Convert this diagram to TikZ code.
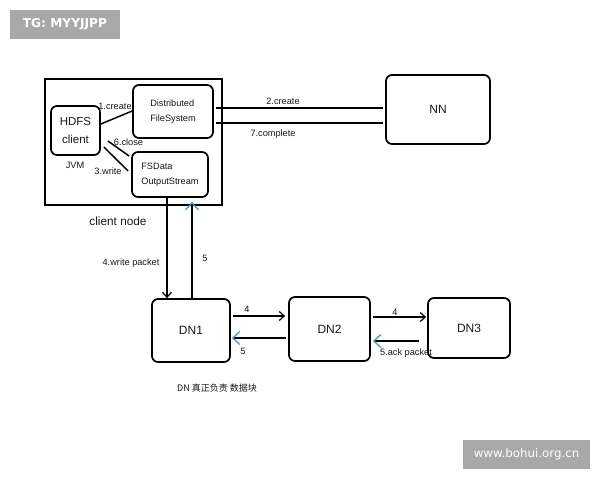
\documentclass[tikz,border=0pt]{standalone}
\usepackage{fontspec}
\setmainfont{Liberation Sans}
\newfontfamily\cjkfont{Noto Sans CJK SC}
\newfontfamily\wmfont{DejaVu Sans}
\usetikzlibrary{arrows.meta,calc}
\definecolor{tealc}{RGB}{70,160,172}
\definecolor{wmgray}{RGB}{168,168,168}
\definecolor{txt}{RGB}{25,25,25}
\tikzset{
  box/.style={draw, line width=1.7pt, rounded corners=6pt, align=center, inner sep=0pt, text=txt},
  outerbox/.style={draw, line width=1.7pt, inner sep=0pt},
  lbl/.style={inner sep=0pt, text=txt, font=\fontsize{9.2}{11}\selectfont},
  conn/.style={line width=1.5pt},
  blk/.style={conn, -{Straight Barb[length=5pt,width=9pt,line width=1.2pt]}},
  tl/.style={conn, -{Straight Barb[length=7pt,width=13pt,line width=1.3pt,color=tealc]}},
  wm/.style={fill=wmgray, text=white, inner sep=0pt}
}
\begin{document}
\begin{tikzpicture}[x=1pt,y=-1pt]
\fill[white] (0,0) rectangle (600,480);
\useasboundingbox (0,0) rectangle (600,480);

% watermarks
\node[wm, minimum width=110pt, minimum height=29pt, font=\wmfont\bfseries\fontsize{12.2}{13}\selectfont] (tg) at (65,24.5) {TG: MYYJJPP};
\node[wm, minimum width=127pt, minimum height=29pt, font=\wmfont\fontsize{11.8}{13}\selectfont] (web) at (526.5,454.5) {www.bohui.org.cn};

% client node
\node[outerbox, minimum width=177pt, minimum height=126pt] (clientnode) at (133.5,142) {};
\node[box, minimum width=49pt, minimum height=49pt, font=\fontsize{11.5}{18}\selectfont] (hdfs) at (75.5,130.5) {HDFS\\client};
\node[box, minimum width=80pt, minimum height=53pt, align=left, font=\fontsize{9.2}{15}\selectfont] (dfs) at (173,111.5) {Distributed\\FileSystem};
\node[box, minimum width=76pt, minimum height=45pt, align=left, font=\fontsize{9.2}{14.5}\selectfont] (fsd) at (170,174.5) {FSData\\OutputStream};

\node[lbl] (jvm) at (75,165) {JVM};
\node[inner sep=0pt, text=txt, font=\fontsize{11.8}{13}\selectfont] (cnlabel) at (118,221) {client node};

\draw[conn] (hdfs.east |- 0,124) -- (dfs.west |- 0,111);
\node[lbl] (l1) at (115,106) {1.create};
\draw[conn] ($(hdfs.east)+(7,10.5)$) -- ($(fsd.west)+(-2,-18.5)$);
\node[lbl] (l6) at (128.5,142) {6.close};
\draw[conn] ($(hdfs.east)+(3,16.5)$) -- ($(fsd.west)+(-3,-3.5)$);
\node[lbl] (l3) at (108,171) {3.write};

% NN
\node[box, minimum width=104pt, minimum height=69pt, font=\fontsize{12}{14}\selectfont] (nn) at (438,109.5) {NN};
\draw[conn] ($(dfs.east |- 0,108)+(2,0)$) -- ($(nn.west |- 0,108)+(-2,0)$);
\node[lbl] (l2) at (283,101) {2.create};
\draw[conn] ($(dfs.east |- 0,123)+(2,0)$) -- ($(nn.west |- 0,123)+(-2,0)$);
\node[lbl] (l7) at (273,134) {7.complete};

% DNs
\node[box, minimum width=78pt, minimum height=63pt, font=\fontsize{12}{14}\selectfont] (dn1) at (191,330.5) {DN1};
\node[box, minimum width=81pt, minimum height=64pt, font=\fontsize{12}{14}\selectfont] (dn2) at (329.5,329) {DN2};
\node[lbl] (l5ack) at (406,353) {5.ack packet};
\node[box, minimum width=82pt, minimum height=60pt, font=\fontsize{12}{14}\selectfont] (dn3) at (469,328) {DN3};

% vertical arrows
\draw[blk] (fsd.south -| 167,0) -- (dn1.north -| 167,0);
\node[lbl] (l4w) at (131,263) {4.write packet};
\draw[tl] (dn1.north -| 192,0) -- ($(fsd.south -| 192,0)+(0,4)$);
\node[lbl] (l5v) at (205,258) {5};

% horizontal arrows
\draw[blk] ($(dn1.east |- 0,316)+(2,0)$) -- ($(dn2.west |- 0,316)+(-3,0)$);
\node[lbl] (l4a) at (247,309) {4};
\draw[tl] ($(dn2.west |- 0,338)+(-2,0)$) -- ($(dn1.east |- 0,338)+(1,0)$);
\node[lbl] (l5a) at (243,351) {5};
\draw[blk] ($(dn2.east |- 0,317)+(2,0)$) -- ($(dn3.west |- 0,317)+(-1,0)$);
\node[lbl] (l4b) at (395,312) {4};
\draw[tl] ($(dn3.west |- 0,341)+(-8,0)$) -- ($(dn2.east |- 0,341)+(2,0)$);

\node[inner sep=0pt, anchor=west, text=txt, font=\cjkfont\fontsize{9}{10}\selectfont] (note) at (177,388) {DN 真正负责 数据块};
\end{tikzpicture}
\end{document}
